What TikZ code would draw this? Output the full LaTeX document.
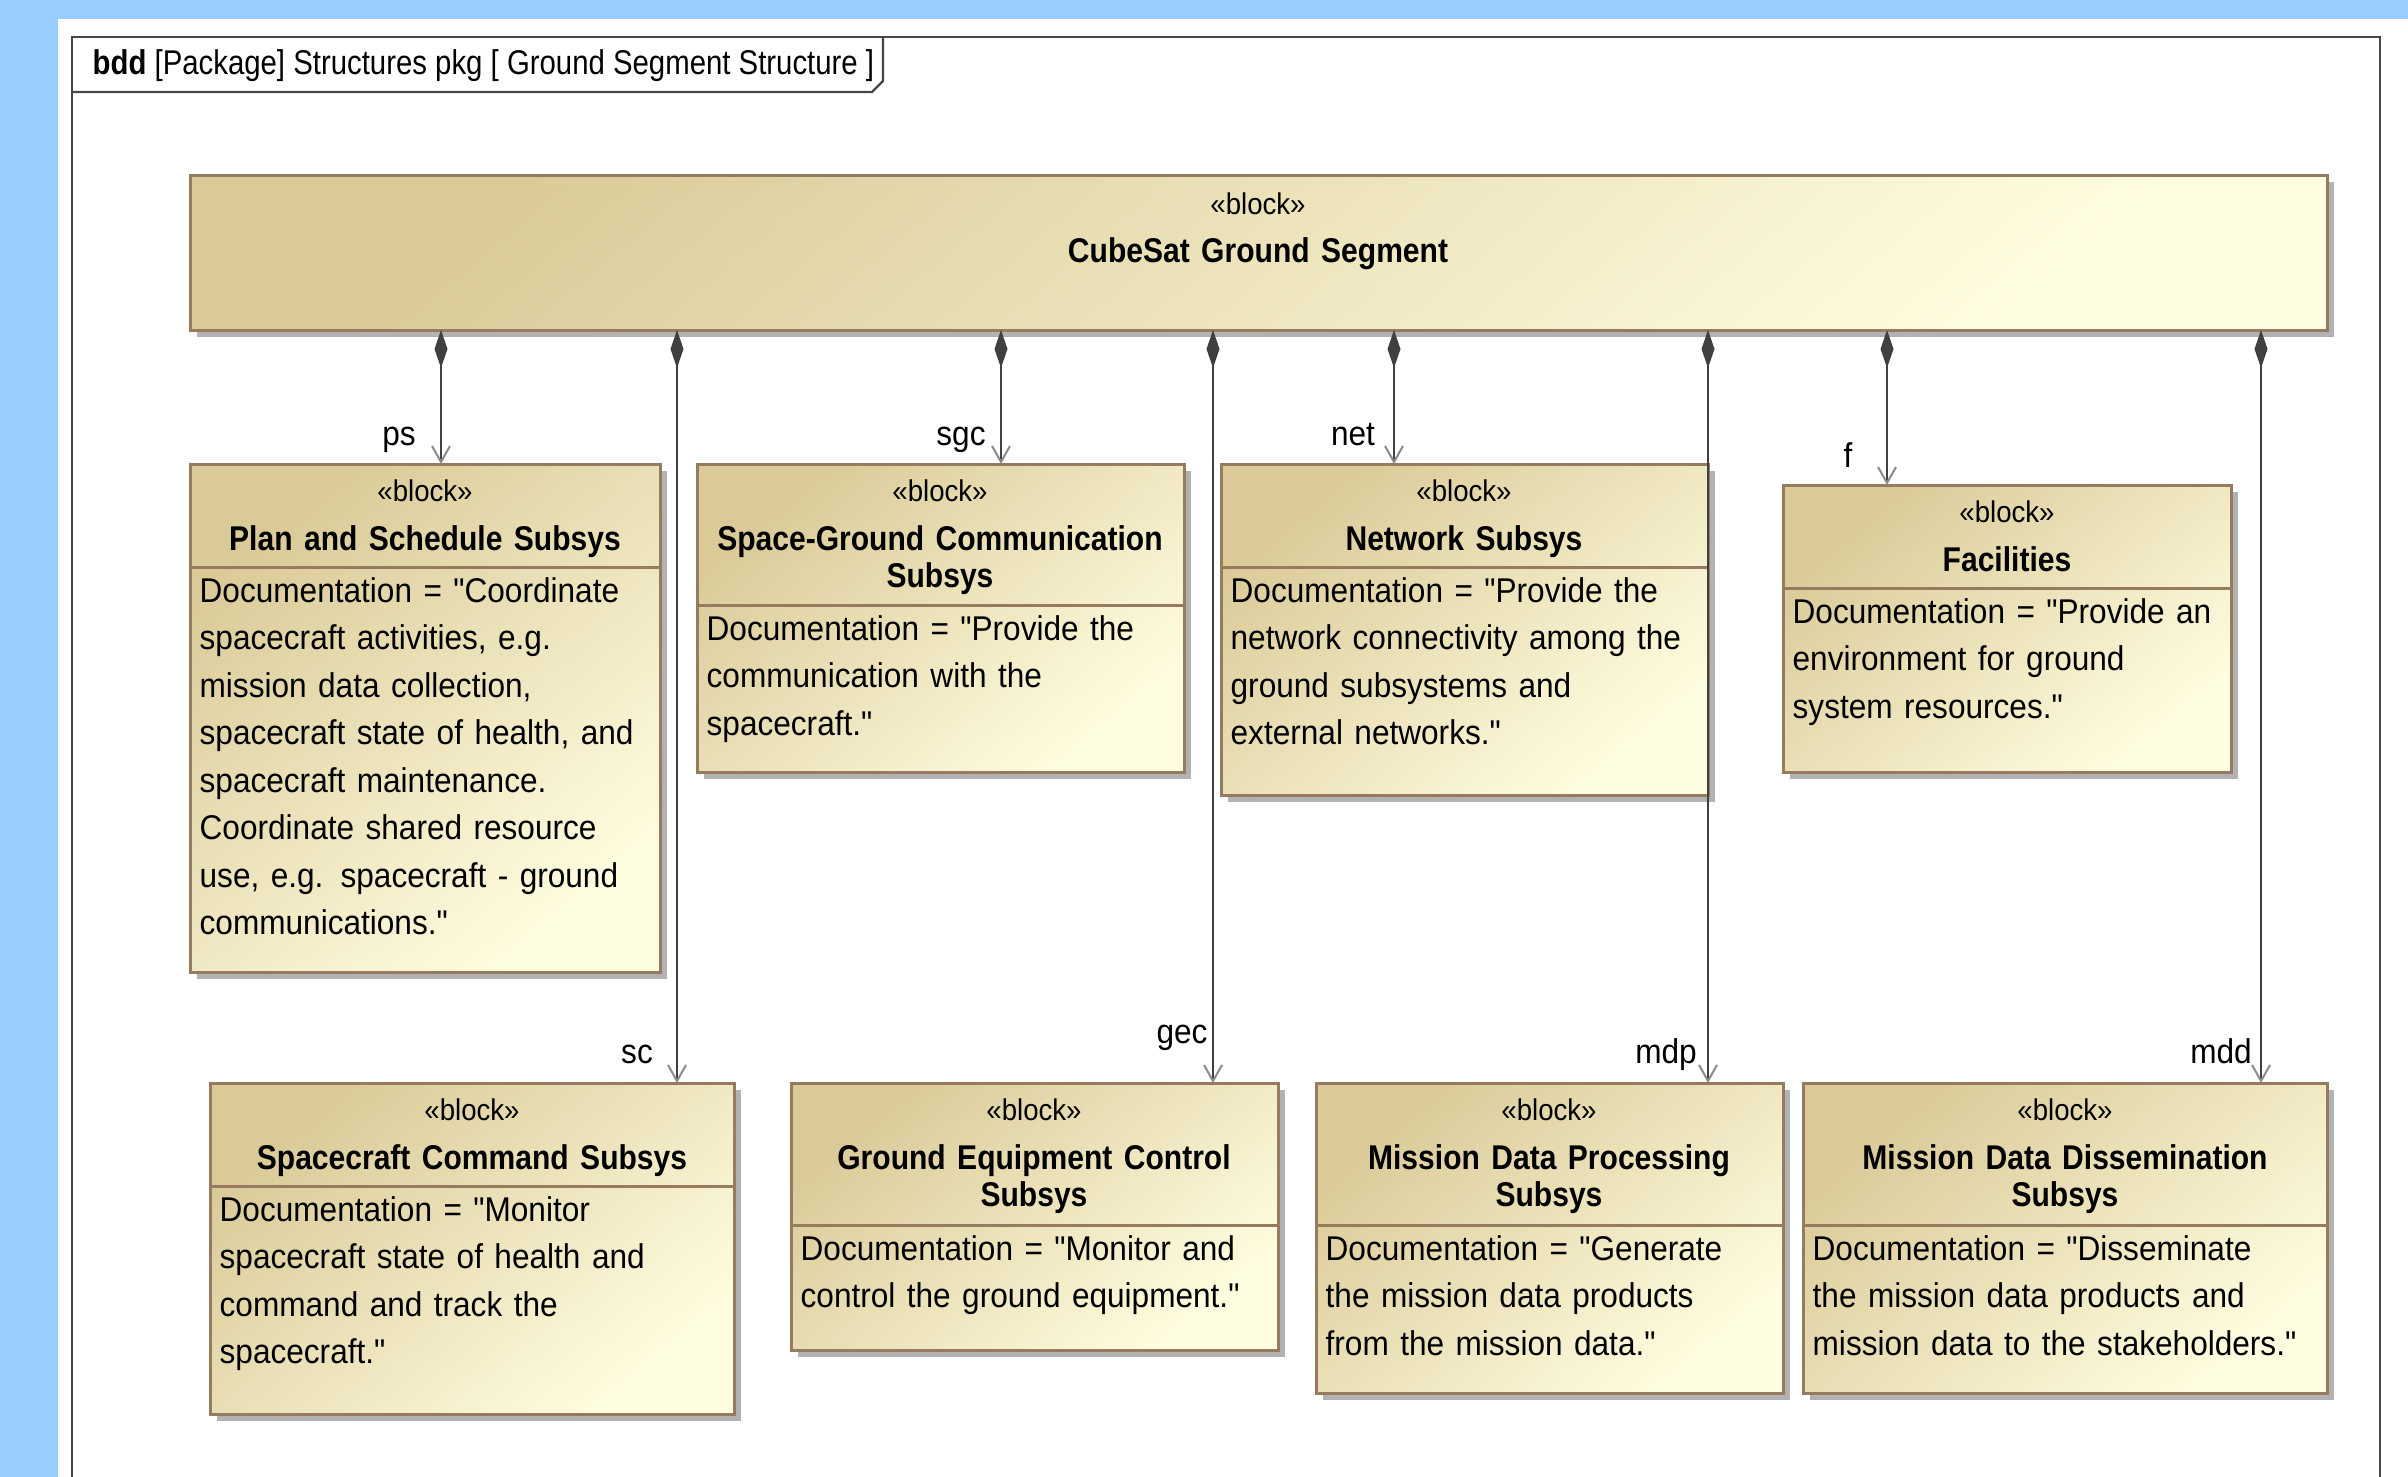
\documentclass[tikz,border=0pt]{standalone}
\usepackage{fontspec}
\setmainfont{Liberation Sans}[FakeStretch=0.92, Ligatures=TeXOff]
\newfontfamily\hdrfont{Liberation Sans}[FakeStretch=0.855, Ligatures=TeXOff]
\newfontfamily\ttlfont{Liberation Sans}[FakeStretch=0.875, Ligatures=TeXOff]
\usetikzlibrary{arrows.meta,shadows}
\definecolor{bgblue}{HTML}{99CCFF}
\definecolor{tanL}{HTML}{DACA98}
\definecolor{creamR}{HTML}{FFFDE0}
\definecolor{bord}{HTML}{967B5E}
\definecolor{shad}{HTML}{B2B2B2}
\definecolor{lineC}{HTML}{404040}
\definecolor{barbC}{HTML}{8A8A8A}
\definecolor{frameC}{HTML}{474747}
\newcommand\docsize{\fontsize{10.3pt}{14.25pt}\selectfont}
\newcommand\stereosize{\fontsize{9pt}{10pt}\selectfont}
\newcommand\titlesize{\ttlfont\fontsize{10.3pt}{11.1pt}\selectfont\bfseries}
\newcommand\hdrsize{\hdrfont\fontsize{10.3pt}{12pt}\selectfont}
\begin{document}
\begin{tikzpicture}[x=0.3pt,y=-0.3pt,
  blk/.style={draw=bord, line width=0.9pt, left color=tanL, right color=creamR, shading angle=40,
    anchor=north west, inner sep=0pt, outer sep=0pt,
    general shadow={fill=shad, shadow xshift=2.1pt, shadow yshift=-2.1pt}},
  divl/.style={draw=bord, line width=0.9pt},
  stereo/.style={font=\stereosize, anchor=base, inner sep=0pt},
  ttl/.style={font=\titlesize, anchor=base, inner sep=0pt, align=center, text width=170pt},
  docbox/.style={font=\docsize, anchor=base west, inner sep=0pt, align=left, text width=170pt},
  comp/.style={draw=lineC, line width=0.8pt,
    {Diamond[length=11.4pt,width=3.9pt,fill=lineC,color=lineC]}-{Straight Barb[length=4.8pt,width=5.4pt,color=barbC,line width=0.6pt]}},
  lbl/.style={font=\docsize, anchor=base, inner sep=0pt},
  framel/.style={draw=frameC, line width=0.65pt}
]
\fill[bgblue] (0,0) rectangle (2408,1477);
\fill[white] (58,19) rectangle (2408,1477);
\useasboundingbox (0,0) rectangle (2408,1477);
% frame
\draw[framel] (72,1477) -- (72,37) -- (2380,37) -- (2380,1477);
\draw[framel] (72,92) -- (872,92) -- (883,81) -- (883,37);
\node[anchor=base west, font=\hdrsize, inner sep=0pt] (hdr) at (92,74) {\textbf{bdd} [Package] Structures pkg [ Ground Segment Structure ]};

% top block
\node[blk, minimum width=641.1pt, minimum height=46.5pt] (top) at (190,175) {};
\node[stereo] (top-s) at (1258,214) {«block»};
\node[ttl] (top-t) at (1258,262) {CubeSat Ground Segment};

% Plan and Schedule
\node[blk, minimum width=141pt, minimum height=152.4pt] (plan) at (190,464) {};
\node[stereo] (plan-s) at (425,501) {«block»};
\node[ttl] (plan-t) at (425,550) {Plan and Schedule Subsys};
\draw[divl] (plan.west |- 0,567) -- (plan.east |- 0,567);
\node[docbox] (plan-d) at (199,602) {Documentation = "Coordinate\\spacecraft activities, e.g.\\mission data collection,\\spacecraft state of health, and\\spacecraft maintenance.\\Coordinate shared resource\\use, e.g. spacecraft - ground\\communications."};

% Space-Ground Communication
\node[blk, minimum width=146.1pt, minimum height=92.4pt] (sgc) at (697,464) {};
\node[stereo] (sgc-s) at (940,501) {«block»};
\node[ttl] (sgc-t) at (940,550) {Space-Ground Communication\\Subsys};
\draw[divl] (sgc.west |- 0,605) -- (sgc.east |- 0,605);
\node[docbox] (sgc-d) at (706,640) {Documentation = "Provide the\\communication with the\\spacecraft."};

% Network
\node[blk, minimum width=146.1pt, minimum height=99.3pt] (net) at (1221,464) {};
\node[stereo] (net-s) at (1464,501) {«block»};
\node[ttl] (net-t) at (1464,550) {Network Subsys};
\draw[divl] (net.west |- 0,567) -- (net.east |- 0,567);
\node[docbox] (net-d) at (1230,602) {Documentation = "Provide the\\network connectivity among the\\ground subsystems and\\external networks."};

% Facilities
\node[blk, minimum width=134.4pt, minimum height=86.1pt] (fac) at (1783,485) {};
\node[stereo] (fac-s) at (2007,522) {«block»};
\node[ttl] (fac-t) at (2007,571) {Facilities};
\draw[divl] (fac.west |- 0,588) -- (fac.east |- 0,588);
\node[docbox] (fac-d) at (1792,623) {Documentation = "Provide an\\environment for ground\\system resources."};

% Spacecraft Command
\node[blk, minimum width=157.2pt, minimum height=99.3pt] (sc) at (210,1083) {};
\node[stereo] (sc-s) at (472,1120) {«block»};
\node[ttl] (sc-t) at (472,1169) {Spacecraft Command Subsys};
\draw[divl] (sc.west |- 0,1186) -- (sc.east |- 0,1186);
\node[docbox] (sc-d) at (219,1221) {Documentation = "Monitor\\spacecraft state of health and\\command and track the\\spacecraft."};

% Ground Equipment Control
\node[blk, minimum width=146.1pt, minimum height=80.1pt] (gec) at (791,1083) {};
\node[stereo] (gec-s) at (1034,1120) {«block»};
\node[ttl] (gec-t) at (1034,1169) {Ground Equipment Control\\Subsys};
\draw[divl] (gec.west |- 0,1225) -- (gec.east |- 0,1225);
\node[docbox] (gec-d) at (800,1260) {Documentation = "Monitor and\\control the ground equipment."};

% Mission Data Processing
\node[blk, minimum width=140.1pt, minimum height=93pt] (mdp) at (1316,1083) {};
\node[stereo] (mdp-s) at (1549,1120) {«block»};
\node[ttl] (mdp-t) at (1549,1169) {Mission Data Processing\\Subsys};
\draw[divl] (mdp.west |- 0,1225) -- (mdp.east |- 0,1225);
\node[docbox] (mdp-d) at (1325,1260) {Documentation = "Generate\\the mission data products\\from the mission data."};

% Mission Data Dissemination
\node[blk, minimum width=157.2pt, minimum height=93pt] (mdd) at (1803,1083) {};
\node[stereo] (mdd-s) at (2065,1120) {«block»};
\node[ttl] (mdd-t) at (2065,1169) {Mission Data Dissemination\\Subsys};
\draw[divl] (mdd.west |- 0,1225) -- (mdd.east |- 0,1225);
\node[docbox] (mdd-d) at (1812,1260) {Documentation = "Disseminate\\the mission data products and\\mission data to the stakeholders."};

% connectors
\draw[comp] (top.south -| 441,0) -- (plan.north -| 441,0);
\draw[comp] (top.south -| 677,0) -- (sc.north -| 677,0);
\draw[comp] (top.south -| 1001,0) -- (sgc.north -| 1001,0);
\draw[comp] (top.south -| 1213,0) -- (gec.north -| 1213,0);
\draw[comp] (top.south -| 1394,0) -- (net.north -| 1394,0);
\draw[comp] (top.south -| 1708,0) -- (mdp.north -| 1708,0);
\draw[comp] (top.south -| 1887,0) -- (fac.north -| 1887,0);
\draw[comp] (top.south -| 2261,0) -- (mdd.north -| 2261,0);

% labels
\node[lbl] (l-ps) at (399,445) {ps};
\node[lbl] (l-sgc) at (961,445) {sgc};
\node[lbl] (l-net) at (1353,445) {net};
\node[lbl] (l-f) at (1848,467) {f};
\node[lbl] (l-sc) at (637,1063) {sc};
\node[lbl] (l-gec) at (1182,1043) {gec};
\node[lbl] (l-mdp) at (1666,1063) {mdp};
\node[lbl] (l-mdd) at (2221,1063) {mdd};
\end{tikzpicture}
\end{document}
